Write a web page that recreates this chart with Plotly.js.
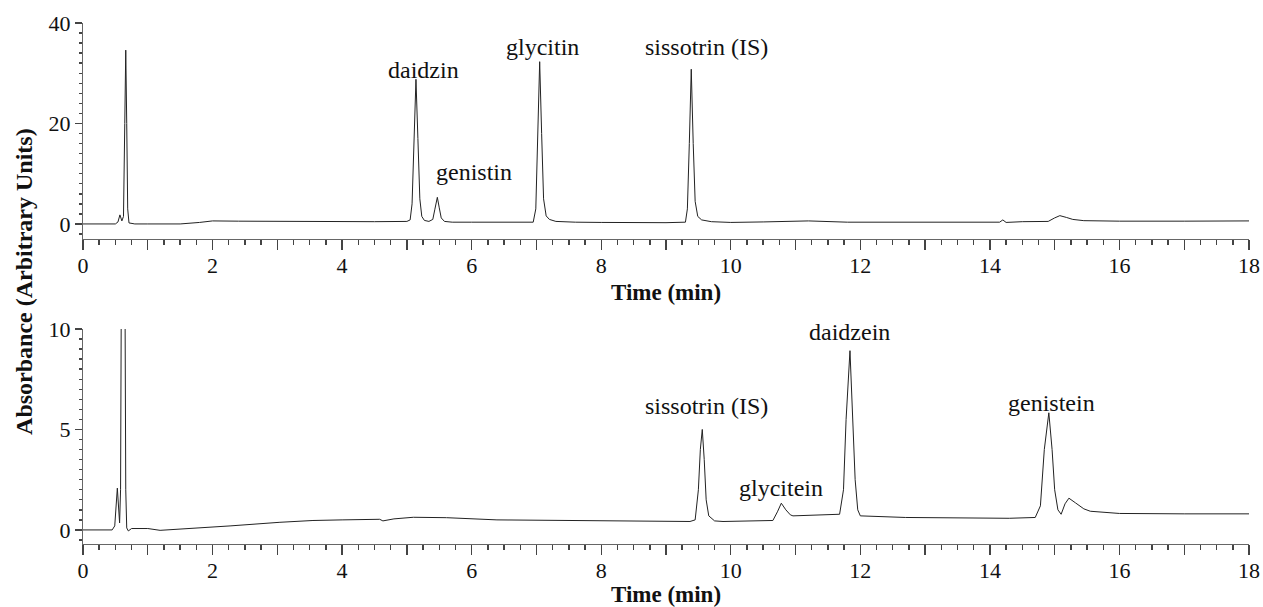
<!DOCTYPE html>
<html>
<head>
<meta charset="utf-8">
<script src="https://cdn.plot.ly/plotly-3.0.1.min.js"></script>
<style>
html,body{margin:0;padding:0;background:#fff;}
#chart{width:1263px;height:607px;}
</style>
</head>
<body>
<div id="chart"></div>
<script>
// ---- Solution 1 chromatogram (time in min, absorbance in arbitrary units)
const time1 = [0, 0.50, 0.54, 0.57, 0.60, 0.625, 0.645, 0.66, 0.675, 0.69, 0.71, 0.8, 1.0, 1.5, 1.8, 2.0, 2.4, 3.0, 3.5, 4.0, 4.5,
  5.0, 5.05, 5.08, 5.11, 5.14, 5.17, 5.20, 5.23, 5.27, 5.34, 5.40, 5.43, 5.47, 5.50, 5.53, 5.58, 5.7, 6.0, 6.5,
  6.95, 6.99, 7.02, 7.05, 7.08, 7.11, 7.15, 7.2, 7.3, 7.6, 8.0, 8.5, 9.0,
  9.30, 9.33, 9.36, 9.39, 9.42, 9.45, 9.49, 9.55, 9.7, 10.0, 10.5, 11.2, 11.8, 12.5, 13.0, 14.0,
  14.15, 14.2, 14.25, 14.5, 14.9, 15.0, 15.08, 15.18, 15.28, 15.45, 16.0, 17.0, 18.0];
const abs1 = [0, 0.0, 0.4, 1.8, 0.6, 1.5, 20, 34.6, 20, 3, 0.2, 0.0, 0.0, 0.0, 0.3, 0.6, 0.55, 0.5, 0.45, 0.45, 0.45,
  0.5, 0.8, 4, 17, 28.8, 17, 5, 1.5, 0.7, 0.5, 0.9, 2.8, 5.3, 3.2, 1.2, 0.5, 0.35, 0.35, 0.3,
  0.35, 3, 17, 32.3, 18, 5, 1.6, 0.9, 0.5, 0.35, 0.3, 0.25, 0.25,
  0.35, 3, 16, 30.8, 16, 4.5, 1.5, 0.8, 0.45, 0.3, 0.4, 0.6, 0.35, 0.35, 0.35, 0.35,
  0.35, 0.8, 0.3, 0.45, 0.5, 1.2, 1.65, 1.3, 0.9, 0.65, 0.55, 0.55, 0.6];

// ---- Solution 2 chromatogram
const time2 = [0, 0.45, 0.49, 0.53, 0.565, 0.58, 0.62, 0.66, 0.675, 0.70, 0.75, 1.0, 1.19, 1.6, 2.27, 3.04, 3.55, 4.0, 4.58, 4.63, 4.8,
  5.1, 5.61, 6.39, 7.0, 8.0, 9.0, 9.37, 9.45, 9.50, 9.53, 9.56, 9.59, 9.62, 9.66, 9.75, 9.88, 10.3,
  10.65, 10.72, 10.78, 10.85, 10.92, 10.96, 11.3, 11.68, 11.74, 11.78, 11.84, 11.88, 11.92, 11.96, 12.0,
  12.7, 13.5, 14.3, 14.7, 14.78, 14.84, 14.91, 14.96, 15.0, 15.05, 15.1, 15.16, 15.22, 15.32, 15.45, 15.55,
  16.0, 17.0, 18.0];
const abs2 = [0, 0.0, 0.2, 2.08, 0.35, 2, 36, 2, 0.1, -0.05, 0.07, 0.07, -0.02, 0.05, 0.2, 0.38, 0.47, 0.5, 0.53, 0.45, 0.55,
  0.63, 0.61, 0.5, 0.48, 0.46, 0.45, 0.42, 0.5, 2, 4, 5.0, 3.5, 1.5, 0.7, 0.45, 0.42, 0.45,
  0.47, 0.9, 1.33, 1.0, 0.75, 0.7, 0.75, 0.78, 2, 5.5, 8.92, 6, 2.5, 1.0, 0.7,
  0.62, 0.6, 0.58, 0.62, 1.2, 4, 5.83, 4, 2, 1.0, 0.78, 1.3, 1.58, 1.35, 1.05, 0.93,
  0.82, 0.8, 0.8];

// ---- Peak labels
const peaks1 = ['daidzin', 'genistin', 'glycitin', 'sissotrin (IS)'];
const peaks1X = [5.25, 6.03, 7.10, 9.63];
const peaks1Y = [30.6, 10.3, 35.2, 35.2];
const peaks2 = ['sissotrin (IS)', 'glycitein', 'daidzein', 'genistein'];
const peaks2X = [9.63, 10.77, 11.84, 14.95];
const peaks2Y = [6.15, 2.1, 9.85, 6.3];
const panelNames = ['Solution 1', 'Solution 2'];

// ---- Tick labels (odd minutes carry an unlabelled tick)
const xTickVals = [0,1,2,3,4,5,6,7,8,9,10,11,12,13,14,15,16,17,18];
const xTickText = ['0','','2','','4','','6','','8','','10','','12','','14','','16','','18'];
const y1TickVals = [0, 20, 40];
const y2TickVals = [0, 5, 10];

const serif = "'Liberation Serif', 'Times New Roman', Times, serif";
const axisCol = '#666';
const tickCol = '#444';
const lineCol = '#222';

const xAlias = {};
xTickVals.forEach((v, i) => { if (xTickText[i] === '') xAlias[String(v)] = ' '; });

const traces = [
  {x: time1, y: abs1, xaxis: 'x', yaxis: 'y', type: 'scatter', mode: 'lines',
   line: {color: lineCol, width: 1}, hoverinfo: 'skip'},
  {x: time2, y: abs2, xaxis: 'x2', yaxis: 'y2', type: 'scatter', mode: 'lines',
   line: {color: lineCol, width: 1}, hoverinfo: 'skip'}
];

function xAxis(anchor) {
  return {
    anchor: anchor, range: [0, 18], showgrid: false, zeroline: false,
    showline: true, linecolor: axisCol, linewidth: 1,
    tickmode: 'linear', tick0: xTickVals[0], dtick: xTickVals[1] - xTickVals[0],
    labelalias: xAlias,
    ticks: 'outside', ticklen: 10, tickcolor: tickCol, tickwidth: 1.4,
    ticklabelstandoff: -3,
    tickfont: {family: serif, size: 22, color: '#111'},
    minor: {tick0: 0, dtick: 0.25, ticks: 'outside', ticklen: 5, tickcolor: tickCol, tickwidth: 1.4, showgrid: false},
    title: {text: '<b>Time (min)</b>', font: {family: serif, size: 23, color: '#111'}, standoff: 6},
    automargin: false
  };
}
function yAxis(anchor, domain, range, tv, minorStep) {
  return {
    anchor: anchor, domain: domain, range: range, showgrid: false, zeroline: false,
    showline: true, linecolor: axisCol, linewidth: 1,
    tickmode: 'linear', tick0: tv[0], dtick: tv[1] - tv[0],
    ticks: 'outside', ticklen: 7, tickcolor: tickCol, tickwidth: 1.4,
    tickfont: {family: serif, size: 22, color: '#111'},
    minor: {tick0: 0, dtick: minorStep, ticks: 'outside', ticklen: 3, tickcolor: tickCol, tickwidth: 1.4, showgrid: false},
    automargin: false
  };
}

const annotations = [];
peaks1.forEach((t, i) => annotations.push({
  text: t, x: peaks1X[i], y: peaks1Y[i], xref: 'x', yref: 'y', showarrow: false,
  xanchor: 'center', yanchor: 'middle', font: {family: serif, size: 24, color: '#111'}
}));
peaks2.forEach((t, i) => annotations.push({
  text: t, x: peaks2X[i], y: peaks2Y[i], xref: 'x2', yref: 'y2', showarrow: false,
  xanchor: 'center', yanchor: 'middle', font: {family: serif, size: 24, color: '#111'}
}));
annotations.push({text: '<b>' + panelNames[0] + '</b>', x: 18.01, y: 6.4, xref: 'x', yref: 'y', showarrow: false,
  xanchor: 'right', yanchor: 'middle', font: {family: serif, size: 30, color: '#111'}});
annotations.push({text: '<b>' + panelNames[1] + '</b>', x: 18.01, y: 2.15, xref: 'x2', yref: 'y2', showarrow: false,
  xanchor: 'right', yanchor: 'middle', font: {family: serif, size: 30, color: '#111'}});
annotations.push({text: '<b>Absorbance (Arbitrary Units)</b>', textangle: -90, x: -0.0506, y: 0.503,
  xref: 'paper', yref: 'paper', showarrow: false, xanchor: 'center', yanchor: 'middle',
  font: {family: serif, size: 24, color: '#111'}});

const layout = {
  width: 1263, height: 607,
  margin: {l: 83, r: 14, t: 23, b: 63},
  paper_bgcolor: '#fff', plot_bgcolor: '#fff',
  showlegend: false,
  font: {family: serif},
  xaxis: xAxis('y'),
  yaxis: yAxis('x', [0.5854, 1], [-3, 40], y1TickVals, 2),
  xaxis2: xAxis('y2'),
  yaxis2: yAxis('x2', [0, 0.4127], [-0.7, 10], y2TickVals, 0.5),
  annotations: annotations
};

Plotly.newPlot('chart', traces, layout, {staticPlot: true, displayModeBar: false});
</script>
</body>
</html>
